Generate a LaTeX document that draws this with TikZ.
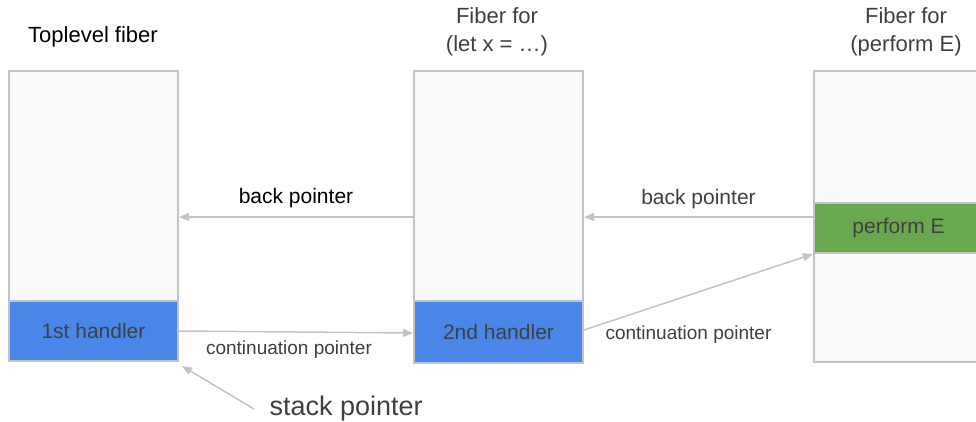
\documentclass[tikz,border=0pt]{standalone}
\usepackage{fontspec}
\setmainfont{Liberation Sans}
\usetikzlibrary{arrows.meta, positioning}

\definecolor{boxgray}{HTML}{F8F9FA}
\definecolor{linegray}{HTML}{C0C3C7}
\definecolor{handlerblue}{HTML}{4A86E8}
\definecolor{performgreen}{HTML}{6AA84F}
\definecolor{textgray}{HTML}{3C4043}

\begin{document}
\begin{tikzpicture}[x=1pt, y=-1pt, >={Triangle[length=10pt, width=8pt]}]
    \tikzstyle{fiber} = [draw=linegray, fill=boxgray, line width=2pt, rectangle, anchor=north west, minimum width=169pt, inner sep=0pt]
    \tikzstyle{frame} = [draw=linegray, line width=2pt, rectangle, anchor=north west, minimum width=169pt, inner sep=0pt, text=textgray, font=\fontsize{21}{25}\selectfont]
    \tikzstyle{title} = [align=center, text=textgray, font=\fontsize{22}{28}\selectfont]
    \tikzstyle{pointer} = [->, draw=linegray, line width=1.5pt]
    \tikzstyle{biglabel} = [text=textgray, font=\fontsize{21}{25}\selectfont]
    \tikzstyle{smalllabel} = [text=textgray, font=\fontsize{19}{23}\selectfont]

    \useasboundingbox (0,0) rectangle (976,422);

    % fibers
    \node [fiber, minimum height=290pt] (fiber1) at (8,70) {};
    \node [fiber, minimum height=292pt] (fiber2) at (413,70) {};
    \node [fiber, minimum height=291pt, minimum width=200pt] (fiber3) at (813,70) {};

    \node [frame, fill=handlerblue, minimum height=60pt] (handler1) at (8,300) {1st handler};
    \node [frame, fill=handlerblue, minimum height=62pt] (handler2) at (413,300) {2nd handler};
    \node [frame, fill=performgreen, minimum height=50pt, minimum width=200pt] (perform) at (813,202) {\hspace*{-31pt}perform E};

    % titles
    \node [title, text=black] (title1) at (93,37) {Toplevel fiber};
    \node [title] (title2) at (497,32) {Fiber for\\(let x = …)};
    \node [title] (title3) at (906,32) {Fiber for\\(perform E)};

    % pointers
    \draw [pointer] (fiber2.west) -- node [biglabel, text=black, above=5pt] {back pointer} (fiber2.west -| fiber1.east);
    \draw [pointer] ([yshift=11pt]perform.west) -- node [biglabel, above=4pt] {back pointer} ([yshift=11pt]perform.west -| fiber2.east);
    \draw [pointer] (handler1.east) -- node [smalllabel, below=5pt, pos=0.47] {continuation pointer} ([yshift=-1pt]handler2.west);
    \draw [pointer] ([yshift=2pt]handler2.east) -- (perform.south west);
    \node [smalllabel, right=18pt of handler2, yshift=-3pt] (contlabel2) {continuation pointer};

    \node [biglabel, font=\fontsize{27}{30}\selectfont, anchor=west] (stack) at (266,409) {stack pointer};
    \draw [pointer] ([xshift=-12pt]stack.west) -- ([shift={(3pt,-4pt)}]handler1.south east);
\end{tikzpicture}
\end{document}
